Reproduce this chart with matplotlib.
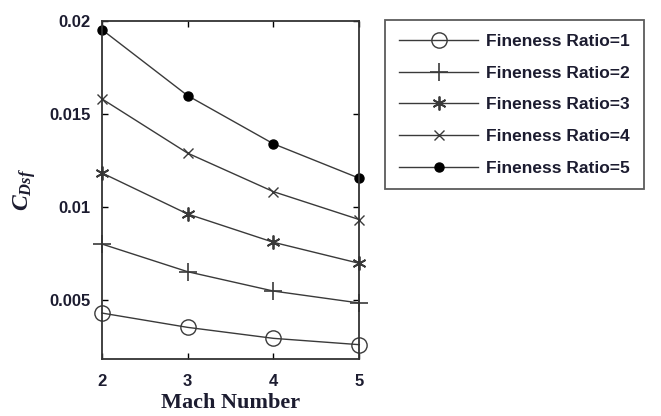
import matplotlib
matplotlib.use('Agg')
import matplotlib.pyplot as plt

plt.rcParams['mathtext.fontset'] = 'custom'
plt.rcParams['mathtext.it'] = 'Liberation Serif:italic:bold'
plt.rcParams['mathtext.rm'] = 'Liberation Serif:bold'

mach = [2, 3, 4, 5]
fr1 = [0.0043, 0.00353, 0.00294, 0.0026]
fr2 = [0.00801, 0.00652, 0.00548, 0.00484]
fr3 = [0.01183, 0.00962, 0.0081, 0.00697]
fr4 = [0.01581, 0.01289, 0.01082, 0.00932]
fr5 = [0.01953, 0.01598, 0.01339, 0.01154]
labels = ['Fineness Ratio=1', 'Fineness Ratio=2', 'Fineness Ratio=3',
          'Fineness Ratio=4', 'Fineness Ratio=5']
yticks = [0.005, 0.01, 0.015, 0.02]
ytick_labels = ['0.005', '0.01', '0.015', '0.02']

text_color = '#1c1c30'
line_color = '#3a3a3a'

fig = plt.figure(figsize=(6.61, 4.16), dpi=100)
ax = fig.add_axes([0.154, 0.137, 0.3896, 0.813])

# marker style per series
styles = [
    dict(marker='o', markersize=11, markerfacecolor='none', markeredgewidth=1.0),
    dict(marker='+', markersize=13, markeredgewidth=1.2),
    dict(marker=(6, 2, 0), markersize=10, markeredgewidth=1.3),
    dict(marker='x', markersize=6.5, markeredgewidth=1.0),
    dict(marker='o', markersize=6.5, markerfacecolor='black', markeredgecolor='black'),
]
handles = []
for series, label, st in zip([fr1, fr2, fr3, fr4, fr5], labels, styles):
    kw = dict(st)
    kw.setdefault('markeredgecolor', line_color)
    h, = ax.plot(mach, series, color=line_color, linewidth=1.0,
                 label=label, clip_on=False, **kw)
    handles.append(h)

ax.set_xlim(2, 5)
ax.set_ylim(0.00183, 0.02)
ax.set_xticks(mach)
ax.set_yticks(yticks)
ax.set_yticklabels(ytick_labels)
ax.tick_params(direction='in', top=True, right=True, length=4, width=1,
               labelsize=12, labelcolor=text_color, pad=8)
ax.tick_params(axis='x', pad=11)
for lab in ax.get_xticklabels() + ax.get_yticklabels():
    lab.set_fontweight('bold')
    lab.set_fontfamily('Liberation Sans')
for sp in ax.spines.values():
    sp.set_linewidth(1.3)
    sp.set_color('#333333')

ax.set_xlabel('Mach Number', fontsize=16, fontweight='bold',
              fontfamily='Liberation Serif', color=text_color, labelpad=3)
ax.set_ylabel(r'$C_{Dsf}$', fontsize=17, color=text_color, labelpad=8)

leg = fig.legend(handles=handles, loc='upper left',
                 bbox_to_anchor=(0.582, 0.952), borderaxespad=0,
                 prop={'family': 'Liberation Sans', 'weight': 'bold', 'size': 12.5},
                 handlelength=4.6, labelspacing=0.95, frameon=True,
                 fancybox=False, edgecolor='#333333', borderpad=0.8,
                 handletextpad=0.45)
leg.get_frame().set_linewidth(1.3)
for t in leg.get_texts():
    t.set_color(text_color)

fig.savefig('out.png', dpi=100)
